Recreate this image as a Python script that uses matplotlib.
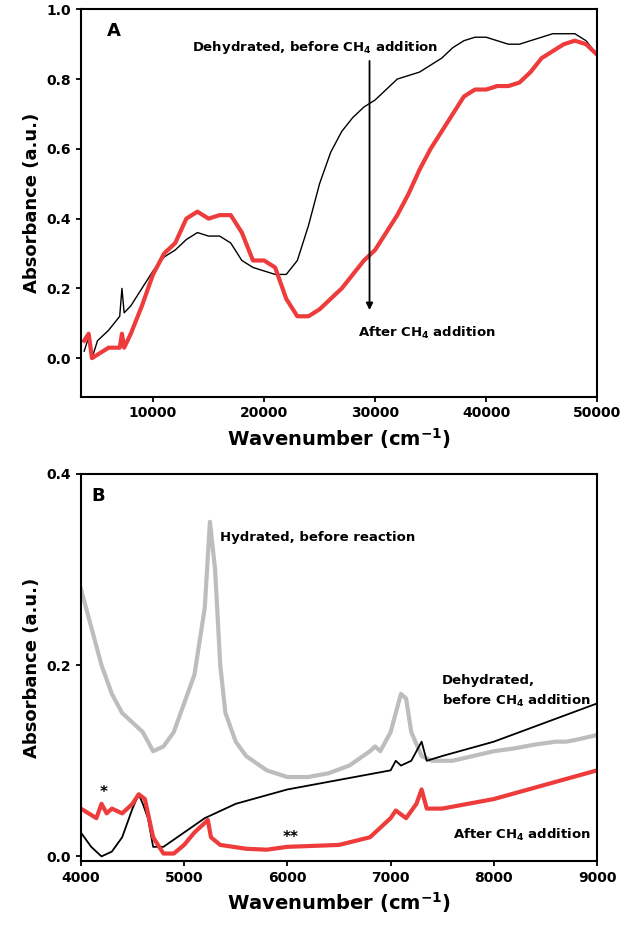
import matplotlib
matplotlib.use('Agg')
import matplotlib.pyplot as plt

plt.rcParams['font.family'] = ['DejaVu Sans']
plt.rcParams['font.weight'] = 'bold'

# Panel A data
a_x = [3800, 4200, 4500, 5000, 6000, 7000, 7200, 7400, 8000, 9000, 10000, 11000, 12000, 13000, 14000,
       15000, 16000, 17000, 18000, 19000, 20000, 21000, 22000, 23000, 24000, 25000, 26000, 27000, 28000,
       29000, 30000, 31000, 32000, 33000, 34000, 35000, 36000, 37000, 38000, 39000, 40000, 41000, 42000,
       43000, 44000, 45000, 46000, 47000, 48000, 49000, 50000]
a_dehyd = [0.02, 0.06, 0.0, 0.05, 0.08, 0.12, 0.2, 0.13, 0.15, 0.2, 0.25, 0.29, 0.31, 0.34, 0.36,
           0.35, 0.35, 0.33, 0.28, 0.26, 0.25, 0.24, 0.24, 0.28, 0.38, 0.5, 0.59, 0.65, 0.69,
           0.72, 0.74, 0.77, 0.8, 0.81, 0.82, 0.84, 0.86, 0.89, 0.91, 0.92, 0.92, 0.91, 0.9,
           0.9, 0.91, 0.92, 0.93, 0.93, 0.93, 0.91, 0.87]
a_ch4 = [0.05, 0.07, 0.0, 0.01, 0.03, 0.03, 0.07, 0.03, 0.07, 0.15, 0.24, 0.3, 0.33, 0.4, 0.42,
         0.4, 0.41, 0.41, 0.36, 0.28, 0.28, 0.26, 0.17, 0.12, 0.12, 0.14, 0.17, 0.2, 0.24,
         0.28, 0.31, 0.36, 0.41, 0.47, 0.54, 0.6, 0.65, 0.7, 0.75, 0.77, 0.77, 0.78, 0.78,
         0.79, 0.82, 0.86, 0.88, 0.9, 0.91, 0.9, 0.87]

# Panel B data
b_hyd_x = [4000, 4100, 4200, 4300, 4400, 4500, 4600, 4700, 4800, 4900, 5000, 5100, 5200, 5250, 5300,
           5350, 5400, 5500, 5600, 5800, 6000, 6200, 6400, 6600, 6800, 6850, 6900, 7000, 7100, 7150,
           7200, 7300, 7400, 7600, 7800, 8000, 8200, 8400, 8600, 8700, 8800, 9000]
b_hyd = [0.28, 0.24, 0.2, 0.17, 0.15, 0.14, 0.13, 0.11, 0.115, 0.13, 0.16, 0.19, 0.26, 0.35, 0.3,
         0.2, 0.15, 0.12, 0.105, 0.09, 0.083, 0.083, 0.087, 0.095, 0.11, 0.115, 0.11, 0.13, 0.17, 0.165,
         0.13, 0.105, 0.1, 0.1, 0.105, 0.11, 0.113, 0.117, 0.12, 0.12, 0.122, 0.127]
b_dehyd_x = [4000, 4100, 4200, 4300, 4400, 4500, 4560, 4600, 4650, 4700, 4800, 5000, 5200, 5500, 6000,
             6500, 7000, 7050, 7100, 7200, 7300, 7350, 7500, 8000, 8500, 9000]
b_dehyd = [0.025, 0.01, 0.0, 0.005, 0.02, 0.05, 0.065, 0.055, 0.04, 0.01, 0.01, 0.025, 0.04, 0.055, 0.07,
           0.08, 0.09, 0.1, 0.095, 0.1, 0.12, 0.1, 0.105, 0.12, 0.14, 0.16]
b_ch4_x = [4000, 4150, 4200, 4250, 4300, 4400, 4500, 4560, 4620, 4700, 4800, 4900, 5000, 5100, 5200,
           5230, 5260, 5350, 5600, 5800, 6000, 6500, 6800, 7000, 7050, 7150, 7250, 7300, 7350, 7500,
           8000, 8500, 9000]
b_ch4 = [0.05, 0.04, 0.055, 0.045, 0.05, 0.045, 0.055, 0.065, 0.06, 0.02, 0.003, 0.003, 0.012, 0.025, 0.035,
         0.038, 0.02, 0.012, 0.008, 0.007, 0.01, 0.012, 0.02, 0.04, 0.048, 0.04, 0.055, 0.07, 0.05, 0.05,
         0.06, 0.075, 0.09]

fig, (ax1, ax2) = plt.subplots(2, 1, figsize=(6.22, 9.31), dpi=100)
fig.subplots_adjust(left=0.13, right=0.96, top=0.99, bottom=0.075, hspace=0.2)

red = '#ee3b3b'

ax1.plot(a_x, a_dehyd, color='black', lw=1)
ax1.plot(a_x, a_ch4, color=red, lw=3)
ax1.set_xlim(3500, 50000)
ax1.set_ylim(-0.11, 1.0)
ax1.set_xticks([10000, 20000, 30000, 40000, 50000])
ax1.set_yticks([0.0, 0.2, 0.4, 0.6, 0.8, 1.0])
ax1.set_xlabel('Wavenumber (cm$^{\\mathbf{-1}}$)', fontsize=14, fontweight='bold')
ax1.set_ylabel('Absorbance (a.u.)', fontsize=13, fontweight='bold')
ax1.text(0.05, 0.93, 'A', transform=ax1.transAxes, fontsize=13, fontweight='bold')
ax1.annotate('', xy=(29500, 0.13), xytext=(29500, 0.86),
             arrowprops=dict(arrowstyle='-|>', color='black', lw=1.3))
ax1.text(13500, 0.88, 'Dehydrated, before CH$_\\mathbf{4}$ addition', fontsize=9.5, fontweight='bold')
ax1.text(28500, 0.06, 'After CH$_\\mathbf{4}$ addition', fontsize=9.5, fontweight='bold')

ax2.plot(b_hyd_x, b_hyd, color='#bdbdbd', lw=3)
ax2.plot(b_dehyd_x, b_dehyd, color='black', lw=1.3)
ax2.plot(b_ch4_x, b_ch4, color=red, lw=3)
ax2.set_xlim(4000, 9000)
ax2.set_ylim(-0.005, 0.4)
ax2.set_yticks([0.0, 0.2, 0.4])
ax2.set_xlabel('Wavenumber (cm$^{\\mathbf{-1}}$)', fontsize=14, fontweight='bold')
ax2.set_ylabel('Absorbance (a.u.)', fontsize=13, fontweight='bold')
ax2.text(0.02, 0.93, 'B', transform=ax2.transAxes, fontsize=13, fontweight='bold')
ax2.text(5350, 0.33, 'Hydrated, before reaction', fontsize=9.5, fontweight='bold')
ax2.text(7500, 0.18, 'Dehydrated,', fontsize=9.5, fontweight='bold')
ax2.text(7500, 0.158, 'before CH$_\\mathbf{4}$ addition', fontsize=9.5, fontweight='bold')
ax2.text(7600, 0.018, 'After CH$_\\mathbf{4}$ addition', fontsize=9.5, fontweight='bold')
ax2.text(4180, 0.062, '*', fontsize=11, fontweight='bold')
ax2.text(5950, 0.015, '**', fontsize=11, fontweight='bold')

for ax in (ax1, ax2):
    for s in ax.spines.values():
        s.set_linewidth(1.5)
    ax.tick_params(labelsize=10, width=1.3, direction='out')
    for lbl in ax.get_xticklabels() + ax.get_yticklabels():
        lbl.set_fontweight('bold')

fig.savefig('out.png', dpi=100)
plt.close()
